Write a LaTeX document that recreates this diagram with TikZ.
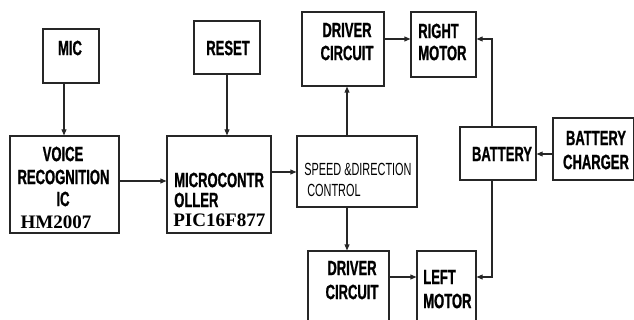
\documentclass[tikz,border=0pt]{standalone}
\usepackage{fontspec}
\newfontfamily\lab[FakeStretch=0.63,FakeBold=1]{Liberation Sans}
\newfontfamily\splab[FakeStretch=0.62]{Liberation Sans}
\newfontfamily\tms{Liberation Serif}
\usetikzlibrary{arrows.meta,fit}
\tikzset{
  box/.style={draw=black!85, line width=0.8pt, inner sep=0pt},
  conn/.style={draw=black!85, line width=0.8pt, -{Triangle[length=4.5pt,width=3.6pt]}},
  lbl/.style={inner sep=0pt, font=\lab\bfseries\fontsize{15.5}{17}\selectfont},
  slbl/.style={inner sep=0pt, font=\splab\fontsize{13.2}{15}\selectfont},
  tlbl/.style={inner sep=0pt, font=\tms\bfseries\fontsize{14.3}{16}\selectfont},
}
\begin{document}
\begin{tikzpicture}[x=0.75pt,y=-0.75pt]
\useasboundingbox (0,0) rectangle (634,320);
\clip (0,0) rectangle (634,320);
\fill[white] (0,0) rectangle (634,320);
% boxes
\node[box, fit={(43,29) (99,83)}] (mic) {};
\node[box, fit={(194,21) (260,74)}] (reset) {};
\node[box, fit={(10,136) (119,233)}] (voice) {};
\node[box, fit={(167,136) (271,233)}] (micro) {};
\node[box, fit={(297,136) (417,207)}] (speed) {};
\node[box, fit={(302,12) (384,86)}] (drvT) {};
\node[box, fit={(411,12) (476,77)}] (rm) {};
\node[box, fit={(308,251) (389,340)}] (drvB) {};
\node[box, fit={(417,251) (476,340)}] (lm) {};
\node[box, fit={(460,127) (536,180)}] (bat) {};
\node[box, fit={(553,118) (633.6,180)}] (chg) {};
% texts
\node[lbl] (tmic) at (70,48) {MIC};
\node[lbl] (treset) at (228,48) {RESET};
\node[lbl] (tv1) at (63,154) {VOICE};
\node[lbl] (tv2) at (63.5,177) {RECOGNITION};
\node[lbl] (tv3) at (63,199) {IC};
\node[tlbl] (tv4) at (56,222) {HM2007};
\node[lbl, anchor=west] (tm1) at (174,180) {MICROCONTR};
\node[lbl, anchor=west] (tm2) at (174,200) {OLLER};
\node[tlbl, anchor=west] (tm3) at (173,220) {PIC16F877};
\node[slbl, anchor=west] (ts1) at (304,169) {SPEED \&DIRECTION};
\node[slbl, anchor=west] (ts2) at (307,190) {CONTROL};
\node[lbl] (td1) at (347,30) {DRIVER};
\node[lbl] (td2) at (347,53) {CIRCUIT};
\node[lbl, anchor=west] (tr1) at (418,31) {RIGHT};
\node[lbl, anchor=west] (tr2) at (418,53) {MOTOR};
\node[lbl] (tb) at (502,154) {BATTERY};
\node[lbl] (tc1) at (596,138) {BATTERY};
\node[lbl] (tc2) at (596,162) {CHARGER};
\node[lbl] (tdb1) at (352,268) {DRIVER};
\node[lbl] (tdb2) at (352,292) {CIRCUIT};
\node[lbl, anchor=west] (tl1) at (423,277) {LEFT};
\node[lbl, anchor=west] (tl2) at (423,301) {MOTOR};
% guide coordinates
\coordinate (xmic) at (64,0);
\coordinate (xres) at (227,0);
\coordinate (xsp) at (347,0);
\coordinate (xbat) at (492,0);
\coordinate (y181) at (0,181);
\coordinate (y172) at (0,172);
\coordinate (y39) at (0,39);
\coordinate (y277) at (0,277);
\coordinate (y154) at (0,154);
% connectors
\draw[conn] (mic.south -| xmic) -- (voice.north -| xmic);
\draw[conn] (reset.south -| xres) -- (micro.north -| xres);
\draw[conn] (voice.east |- y181) -- (micro.west |- y181);
\draw[conn] (micro.east |- y172) -- (speed.west |- y172);
\draw[conn] (speed.north -| xsp) -- (drvT.south -| xsp);
\draw[conn] (speed.south -| xsp) -- (drvB.north -| xsp);
\draw[conn] (drvT.east |- y39) -- (rm.west |- y39);
\draw[conn] (drvB.east |- y277) -- (lm.west |- y277);
\draw[conn] (chg.west |- y154) -- (bat.east |- y154);
\draw[conn] (bat.north -| xbat) |- (rm.east |- y39);
\draw[conn] (bat.south -| xbat) |- (lm.east |- y277);
\end{tikzpicture}
\end{document}
